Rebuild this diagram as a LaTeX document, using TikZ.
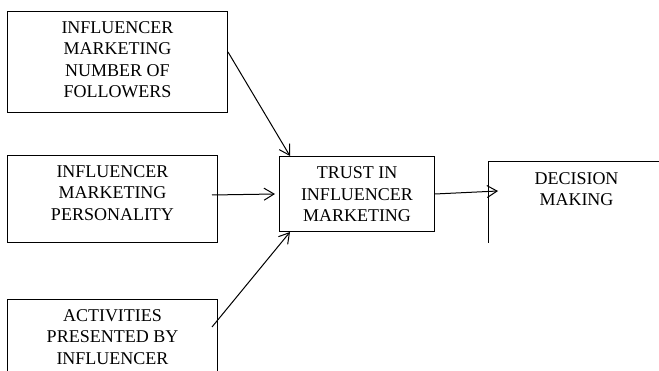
\documentclass[tikz,border=0pt]{standalone}
\usepackage{fontspec}
\setmainfont{Liberation Serif}
\usetikzlibrary{positioning,arrows.meta}

\begin{document}
\begin{tikzpicture}[
    x=1pt,y=1pt,
    box/.style={draw,line width=1pt,anchor=north west,inner sep=0pt},
    txt/.style={align=center,inner sep=0pt,font=\fontsize{18pt}{21.5pt}\selectfont},
    link/.style={line width=1pt,-{Straight Barb[length=10pt,width=12pt]}}
  ]
  \useasboundingbox (0,0) rectangle (659,-371);

  \node[box,minimum width=220pt,minimum height=101pt] at (7,-11)  (followers)   {};
  \node[box,minimum width=210pt,minimum height=87pt]  at (7,-155) (personality) {};
  \node[box,minimum width=210pt,minimum height=101pt] at (7,-299) (activities)  {};
  \node[box,minimum width=155pt,minimum height=75pt]  at (279,-156) (trust)    {};
  \node[box,draw=none,minimum width=176pt,minimum height=80pt] at (488,-162) (decision) {};
  \draw[line width=1pt] (decision.south west) -- (decision.north west) -- (decision.north east);

  \node[txt,below=10pt of followers.north]   (followers-text)   {INFLUENCER\\MARKETING\\NUMBER OF\\FOLLOWERS};
  \node[txt,below=10pt of personality.north] (personality-text) {INFLUENCER\\MARKETING\\PERSONALITY};
  \node[txt,below=10pt of activities.north]  (activities-text)  {ACTIVITIES\\PRESENTED BY\\INFLUENCER};
  \node[txt,below=10.5pt of trust.north]     (trust-text)       {TRUST IN\\INFLUENCER\\MARKETING};
  \node[txt,below=10pt of decision.north]    (decision-text)    {DECISION\\MAKING};

  \draw[link] ([yshift=10pt]followers.east) -- ([xshift=11pt]trust.north west);
  \draw[link] ([xshift=-6pt,yshift=4pt]personality.east) -- ([xshift=-4pt]trust.west);
  \draw[link] ([xshift=-6pt,yshift=-28pt]activities.north east) -- ([xshift=11pt]trust.south west);
  \draw[link] (trust.east) -- ([xshift=10pt,yshift=-29pt]decision.north west);
\end{tikzpicture}
\end{document}
